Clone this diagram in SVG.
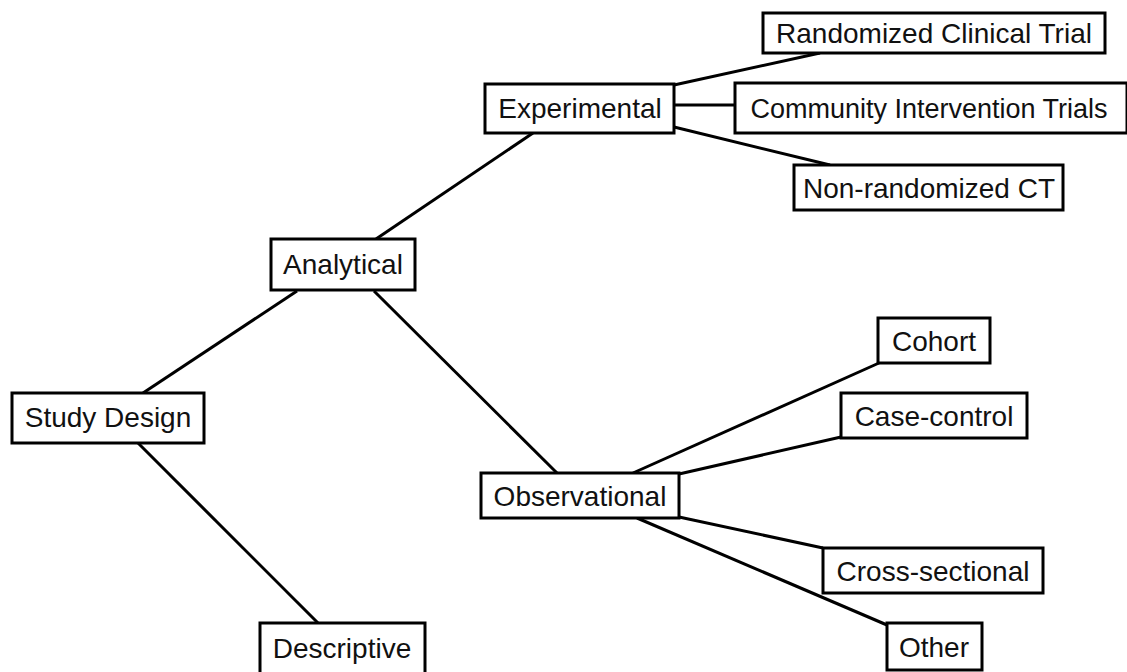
<svg xmlns="http://www.w3.org/2000/svg" width="1127" height="672" viewBox="0 0 1127 672">
<style>
.box{fill:#fff;stroke:#000;stroke-width:3}
.lbl{font-family:"Liberation Sans",Arial,sans-serif;font-size:28px;fill:#111;text-anchor:middle}
.edge{stroke:#000;stroke-width:3;fill:none}
</style>
<rect width="1127" height="672" fill="#fff"/>
<g id="connectors">
<line class="edge" x1="143" y1="393" x2="297" y2="291"/>
<line class="edge" x1="138" y1="443" x2="318" y2="623"/>
<line class="edge" x1="376" y1="239" x2="533" y2="133"/>
<line class="edge" x1="374" y1="291" x2="557" y2="473"/>
<line class="edge" x1="674" y1="85" x2="820" y2="53"/>
<line class="edge" x1="674" y1="105" x2="735" y2="105"/>
<line class="edge" x1="674" y1="127" x2="830" y2="165"/>
<line class="edge" x1="633" y1="473" x2="879" y2="363"/>
<line class="edge" x1="679" y1="474" x2="841" y2="437"/>
<line class="edge" x1="679" y1="517" x2="823" y2="548"/>
<line class="edge" x1="637" y1="518" x2="887" y2="625"/>
</g>
<g id="study-design"><rect class="box" x="12" y="393" width="192" height="50"/><text class="lbl" x="108" y="427">Study Design</text></g>
<g id="analytical"><rect class="box" x="271" y="239" width="144" height="51"/><text class="lbl" x="343" y="274">Analytical</text></g>
<g id="descriptive"><rect class="box" x="260" y="623" width="165" height="70"/><text class="lbl" x="342" y="658">Descriptive</text></g>
<g id="experimental"><rect class="box" x="485" y="84" width="189" height="49"/><text class="lbl" x="580" y="118">Experimental</text></g>
<g id="observational"><rect class="box" x="481" y="473" width="198" height="45"/><text class="lbl" x="580" y="506">Observational</text></g>
<g id="rct"><rect class="box" x="763" y="13" width="342" height="40"/><text class="lbl" x="934" y="43">Randomized Clinical Trial</text></g>
<g id="community"><rect class="box" x="735" y="83" width="392" height="50"/><text class="lbl" x="929" y="118" style="font-size:27px">Community Intervention Trials</text></g>
<g id="nonrandomized"><rect class="box" x="794" y="165" width="269" height="45"/><text class="lbl" x="929" y="198">Non-randomized CT</text></g>
<g id="cohort"><rect class="box" x="878" y="318" width="112" height="45"/><text class="lbl" x="934" y="351">Cohort</text></g>
<g id="case-control"><rect class="box" x="841" y="393" width="186" height="45"/><text class="lbl" x="934" y="426">Case-control</text></g>
<g id="cross-sectional"><rect class="box" x="823" y="548" width="220" height="45"/><text class="lbl" x="933" y="581">Cross-sectional</text></g>
<g id="other"><rect class="box" x="887" y="623" width="95" height="47"/><text class="lbl" x="934" y="657">Other</text></g>
</svg>
